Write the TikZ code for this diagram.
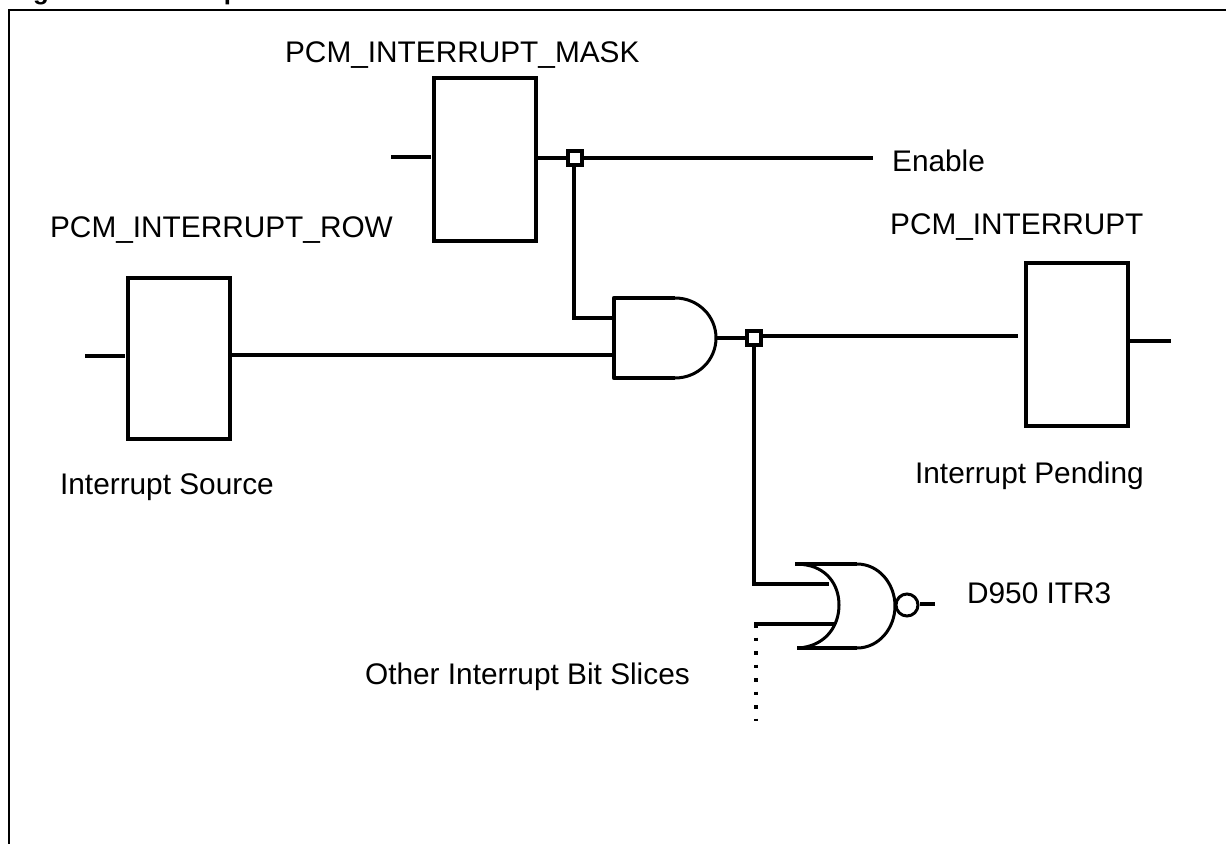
\documentclass[tikz,border=0pt]{standalone}
\usepackage{fontspec}
\setmainfont{Liberation Sans}
\def\pxu{0.0625cm}
\tikzset{
 x=0.0625cm,y=-0.0625cm,
 wire/.style={line width=4.3*\pxu,line cap=butt},
 thin wire/.style={line width=3*\pxu,line join=round},
 frameline/.style={line width=2.4*\pxu,line join=miter},
 regbox/.style={draw,line width=4.3*\pxu,fill=white,minimum width=102*\pxu,inner sep=0pt},
 lbl/.style={font=\fontsize{53pt}{60pt}\selectfont,inner sep=0pt,anchor=base west},
 titlelbl/.style={font=\fontsize{46pt}{52pt}\bfseries\selectfont,inner sep=0pt,anchor=base west},
 junc/.style={draw,line width=4.3*\pxu,fill=white,minimum size=13.5*\pxu,inner sep=0pt},
 bub/.style={circle,draw,line width=3*\pxu,fill=white,minimum size=22*\pxu,inner sep=0pt},
 dotline/.style={line width=3.8*\pxu,dash pattern=on 3.8*\pxu off 9.7*\pxu}
}
\begin{document}
\begin{tikzpicture}
\useasboundingbox (0,0) rectangle (1226,844);
\begin{scope}
\clip (0,0) rectangle (1226,844);
\node[titlelbl] (title) at (10,-1) {Figure 13. Interrupt Slice};
\draw[frameline] (9,844) -- (9,10) -- (1226,10);
\end{scope}
% registers
\node[regbox,minimum height=163*\pxu] (mask) at (485,159.5) {};
\node[regbox,minimum height=161*\pxu] (row) at (179,358.5) {};
\node[regbox,minimum height=163*\pxu] (pend) at (1077,344.5) {};
% coordinates
\coordinate (maskin) at (391,157);
\coordinate (rowin) at (85,356);
\coordinate (enableend) at (873,158);
\coordinate (pendout) at (1171,341);
\coordinate (pendin) at (1018,336);
\coordinate (andA) at (614,318);
\coordinate (andB) at (614,355);
\coordinate (andout) at (716,338);
\coordinate (orA) at (829,584);
\coordinate (orAstart) at (754,584);
\coordinate (orB) at (834,624);
\coordinate (orBstart) at (754,624);
\coordinate (dotsend) at (756,721);
\coordinate (orout) at (935,604);
% junction positions
\coordinate (j1c) at (575,158);
\coordinate (j2c) at (754,338);
% wires
\draw[wire] (maskin) -- (431,157);
\draw[wire] (mask.east |- j1c) -- (j1c) -- (enableend);
\draw[wire,line join=miter] (574,158) -- (574,318) -- (andA);
\draw[wire] (rowin) -- (125,356);
\draw[wire] (row.east |- andB) -- (andB);
\draw[wire] (andout) -- (j2c);
\draw[wire] (754,336) -- (pendin);
\draw[wire] (pend.east |- pendout) -- (pendout);
\draw[wire,line join=miter] (j2c) -- (orAstart) -- (orA);
\draw[wire] (orBstart) -- (orB);
\draw[dotline] (756,624) -- (dotsend);
% AND gate
\draw[wire,line join=round] (675,298) -- (614,298) -- (614,378) -- (675,378);
\draw[thin wire] (675,298) .. controls (698,298) and (716,316) .. (716,338) .. controls (716,360) and (698,378) .. (675,378);
% NOR gate
\draw[wire] (795,564) -- (857,564);
\draw[wire] (797,648) -- (857,648);
\draw[thin wire] (803,564.5) .. controls (826,567) and (839,584) .. (839,605) .. controls (839,626) and (826,644) .. (803,647.5);
\draw[thin wire] (857,564) .. controls (879,564) and (895,584) .. (895,606) .. controls (895,628) and (879,648) .. (857,648);
\node[bub] (bubble) at (907,605) {};
\draw[wire] (bubble.east |- orout) -- (orout);
% junction marks
\node[junc] (j1) at (j1c) {};
\node[junc] (j2) at (j2c) {};
% labels
\node[lbl] (lmask) at (285,62.5) {PCM\_INTERRUPT\_MASK};
\node[lbl] (lrow) at (50,237) {PCM\_INTERRUPT\_ROW};
\node[lbl] (lpend) at (890,234) {PCM\_INTERRUPT};
\node[lbl] (lena) at (892,171) {Enable};
\node[lbl] (lsrc) at (60,494) {Interrupt Source};
\node[lbl] (lpnd) at (915,483) {Interrupt Pending};
\node[lbl] (litr) at (967,603.5) {D950 ITR3};
\node[lbl] (loth) at (365,684) {Other Interrupt Bit Slices};
\end{tikzpicture}
\end{document}
